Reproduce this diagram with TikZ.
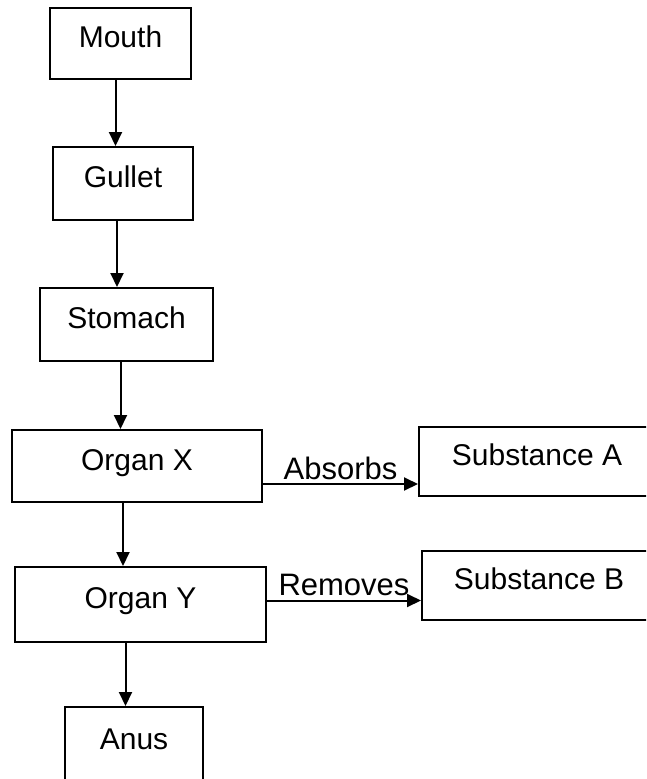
\documentclass[tikz,border=0pt]{standalone}
\usepackage{fontspec}
\setmainfont{Liberation Sans}
\usepackage{tikz}
\usetikzlibrary{arrows.meta}

\begin{document}
\begin{tikzpicture}[x=1pt, y=-1pt,
    box/.style={draw, line width=2pt, inner sep=0pt, text height=22pt, text depth=14pt, font=\fontsize{30}{36}\selectfont},
    flow/.style={line width=2pt, -{Triangle[length=14pt, width=13pt]}},
    tag/.style={font=\fontsize{31}{36}\selectfont}]
    \clip (0,0) rectangle (646,779);
    \node[box, minimum width=141pt, minimum height=71pt] (mouth) at (120.5,43.5) {Mouth};
    \node[box, minimum width=140pt, minimum height=73pt] (gullet) at (123,183.5) {Gullet};
    \node[box, minimum width=173pt, minimum height=73pt] (stomach) at (126.5,324.5) {Stomach};
    \node[box, minimum width=250pt, minimum height=72pt] (organX) at (137,466) {Organ X};
    \node[box, minimum width=251pt, minimum height=75pt] (organY) at (140.5,604.5) {Organ Y};
    \node[box, minimum width=138pt, minimum height=76pt] (anus) at (134,745) {Anus};
    \node[box, anchor=west, minimum width=236pt, minimum height=69pt] (subA) at (418,461.5) {Substance A};
    \node[box, anchor=west, minimum width=234pt, minimum height=69pt] (subB) at (421,585.5) {Substance B};
    \foreach \a/\b/\dx in {mouth/gullet/-5, gullet/stomach/-6, stomach/organX/-6, organX/organY/-14, organY/anus/-15}
        \draw[flow] ([xshift=\dx pt]\a.south) -- ([xshift=\dx pt]\a.south |- \b.north);
    \draw[flow] ([yshift=-18pt]organX.east) -- ([yshift=-18pt]organX.east -| subA.west)
        node[tag, midway, above] {Absorbs};
    \draw[flow] ([yshift=4pt]organY.east) -- ([yshift=4pt]organY.east -| subB.west)
        node[tag, midway, above] {Removes};
\end{tikzpicture}
\end{document}
